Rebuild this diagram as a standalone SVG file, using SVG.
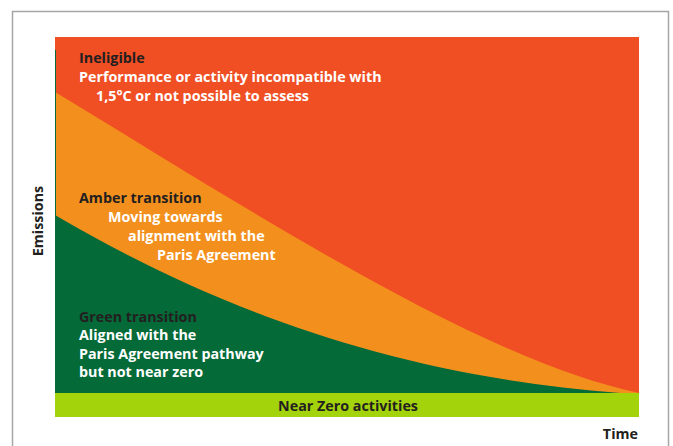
<svg xmlns="http://www.w3.org/2000/svg" width="673" height="446" viewBox="0 0 673 446">
  <style>
    .t { font-family: "Open Sans", "Liberation Sans", sans-serif; font-weight: 700; font-size: 14.3px; }
    .dark { fill: #231F20; }
    .light { fill: #FFFFFF; }
  </style>
  <rect x="0" y="0" width="673" height="446" fill="#FFFFFF"/>
  <!-- frame -->
  <rect x="12.5" y="11.5" width="656" height="450" fill="none" stroke="#A6A6A6" stroke-width="1.5"/>

  <!-- zones -->
  <g id="ineligible">
    <rect x="55" y="37" width="584" height="356" fill="#F04E23"/>
  </g>
  <g id="amber">
    <path d="M55,92 C250,210 480,360 639,393 L55,393 Z" fill="#F3901D"/>
  </g>
  <g id="green">
    <path d="M55,215 C200,300 380,375 620,393 L55,393 Z" fill="#046A38"/>
    <line x1="55.5" y1="50" x2="55.5" y2="393" stroke="#046A38" stroke-width="1"/>
  </g>
  <g id="near-zero">
    <rect x="55" y="393" width="584" height="24" fill="#A3D30A"/>
    <text class="t dark" x="348" y="411" text-anchor="middle">Near Zero activities</text>
  </g>

  <!-- labels -->
  <g id="ineligible-label">
    <text class="t dark" x="79" y="63">Ineligible</text>
    <text class="t light" x="79" y="82">Performance or activity incompatible with</text>
    <text class="t light" x="96" y="101">1,5°C or not possible to assess</text>
  </g>
  <g id="amber-label">
    <text class="t dark" x="79" y="203">Amber transition</text>
    <text class="t light" x="108" y="222">Moving towards</text>
    <text class="t light" x="128" y="241">alignment with the</text>
    <text class="t light" x="157" y="260">Paris Agreement</text>
  </g>
  <g id="green-label">
    <text class="t dark" x="79" y="322">Green transition</text>
    <text class="t light" x="79" y="340">Aligned with the</text>
    <text class="t light" x="79" y="359">Paris Agreement pathway</text>
    <text class="t light" x="79" y="377">but not near zero</text>
  </g>

  <!-- axes -->
  <g id="axis-labels">
    <text class="t dark" x="638" y="439" text-anchor="end">Time</text>
    <text class="t dark" transform="translate(42.5,221) rotate(-90)" text-anchor="middle">Emissions</text>
  </g>
</svg>
